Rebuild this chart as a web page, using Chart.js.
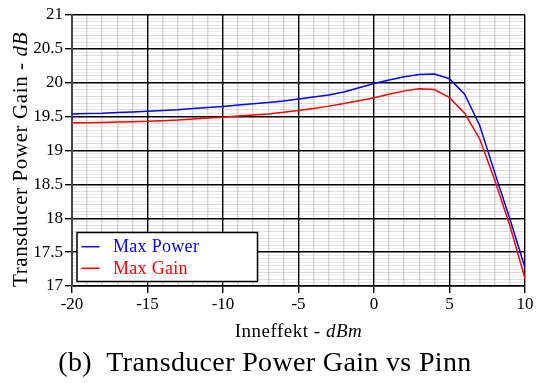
<!DOCTYPE html>
<html>
<head>
<meta charset="utf-8">
<script src="https://cdn.jsdelivr.net/npm/chart.js@4.4.1/dist/chart.umd.min.js"></script>
<style>
  html, body { margin: 0; padding: 0; background: #ffffff; }
  #wrap { width: 537px; height: 383px; }
</style>
</head>
<body>
<div id="wrap"><canvas id="c" width="537" height="383"></canvas></div>
<script>
// Input power sweep (dBm)
const pinn = [-20, -19, -18, -17, -16, -15, -14, -13, -12, -11, -10, -9, -8, -7, -6, -5, -4, -3, -2, -1,
              0, 1, 2, 3, 4, 5, 6, 7, 8, 9, 10];
// Transducer power gain (dB) for the two matching conditions
const maxPower = [19.54, 19.545, 19.55, 19.56, 19.57, 19.58, 19.59, 19.60, 19.62, 19.635, 19.65, 19.67, 19.69, 19.71, 19.73, 19.76, 19.79, 19.82, 19.865, 19.925,
                  19.99, 20.04, 20.09, 20.12, 20.13, 20.06, 19.83, 19.37, 18.67, 17.99, 17.27];
const maxGain = [19.41, 19.41, 19.415, 19.42, 19.425, 19.43, 19.44, 19.45, 19.465, 19.48, 19.49, 19.51, 19.525, 19.54, 19.565, 19.59, 19.62, 19.655, 19.695, 19.735,
                 19.78, 19.83, 19.88, 19.91, 19.90, 19.78, 19.55, 19.17, 18.56, 17.89, 17.11];
const seriesNames = ['Max Power', 'Max Gain'];
const seriesColors = ['#0000ff', '#ff0000'];

// Axis ranges and labelled tick values
const xRange = [-20, 10];
const yRange = [17, 21];
const xMajorTicks = [-20, -15, -10, -5, 0, 5, 10];
const yMajorTicks = [17, 17.5, 18, 18.5, 19, 19.5, 20, 20.5, 21];
const xMinorStep = 1;
const yMinorStep = 0.05;

const SERIF = '"Liberation Serif", "DejaVu Serif", serif';

const near = (a, b) => Math.abs(a - b) < 1e-6;
const isMajor = (list, v) => list.some(t => near(t, v));
const stepTicks = (lo, hi, step) => {
  const out = [];
  const n = Math.round((hi - lo) / step);
  for (let i = 0; i <= n; i++) out.push(Math.round((lo + i * step) * 1000) / 1000);
  return out;
};

function toPoints(xs, ys) {
  return xs.map((x, i) => ({ x: x, y: ys[i] }));
}

// Axis titles (with italic units), caption and the framed legend
const annotate = {
  id: 'annotate',
  afterDraw(chart) {
    const ctx = chart.ctx;
    const area = chart.chartArea;
    ctx.save();
    ctx.fillStyle = '#000';
    ctx.textBaseline = 'alphabetic';

    function mixed(parts, cx, cy, rotate, spacing) {
      // parts: [[text, font], ...]
      ctx.save();
      if ('letterSpacing' in ctx) ctx.letterSpacing = spacing + 'px';
      let total = 0;
      const widths = parts.map(p => { ctx.font = p[1]; const w = ctx.measureText(p[0]).width; total += w; return w; });
      ctx.translate(cx, cy);
      if (rotate) ctx.rotate(-Math.PI / 2);
      let x = -total / 2;
      parts.forEach((p, i) => {
        ctx.font = p[1];
        ctx.textAlign = 'left';
        ctx.fillText(p[0], x, 0);
        x += widths[i];
      });
      ctx.restore();
    }

    // y-axis title
    mixed([['Transducer Power Gain - ', '21px ' + SERIF], ['dB', 'italic 21px ' + SERIF]], 26.5, 159.5, true, 0.6);
    // x-axis title
    mixed([['Inneffekt - ', '19px ' + SERIF], ['dBm', 'italic 19px ' + SERIF]], (area.left + area.right) / 2, 337, false, 0.5);
    // caption
    mixed([['(b)\u2002Transducer Power Gain vs Pinn', '28px ' + SERIF]], 265, 371, false, 0.35);

    // legend box
    const bx = 77, by = 232.5, bw = 180.5, bh = 49;
    ctx.fillStyle = '#ffffff';
    ctx.fillRect(bx, by, bw, bh);
    ctx.strokeStyle = '#000';
    ctx.lineWidth = 1.5;
    ctx.strokeRect(bx, by, bw, bh);
    const rows = [246.7, 268.3];
    if ('letterSpacing' in ctx) ctx.letterSpacing = '0.3px';
    chart.data.datasets.forEach((ds, i) => {
      ctx.strokeStyle = ds.borderColor;
      ctx.lineWidth = 1.5;
      ctx.beginPath();
      ctx.moveTo(81.5, rows[i]);
      ctx.lineTo(99.5, rows[i]);
      ctx.stroke();
      ctx.fillStyle = ds.borderColor;
      ctx.font = '18px ' + SERIF;
      ctx.textAlign = 'left';
      ctx.fillText(ds.label, 113, rows[i] + 5.5);
    });
    ctx.restore();
  }
};

new Chart(document.getElementById('c'), {
  type: 'line',
  data: {
    datasets: [
      { label: seriesNames[0], data: toPoints(pinn, maxPower), borderColor: seriesColors[0], borderWidth: 1.5, pointRadius: 0, tension: 0, fill: false },
      { label: seriesNames[1], data: toPoints(pinn, maxGain), borderColor: seriesColors[1], borderWidth: 1.5, pointRadius: 0, tension: 0, fill: false }
    ]
  },
  options: {
    responsive: false,
    animation: false,
    devicePixelRatio: 1,
    layout: { padding: { left: 0, right: 12, top: 15, bottom: 0 } },
    plugins: { legend: { display: false }, title: { display: false }, tooltip: { enabled: false } },
    scales: {
      x: {
        type: 'linear',
        min: xRange[0], max: xRange[1],
        afterBuildTicks(scale) { scale.ticks = stepTicks(xRange[0], xRange[1], xMinorStep).map(v => ({ value: v })); },
        afterFit(scale) { scale.height = 97; scale.paddingLeft = 0; scale.paddingRight = 0; },
        ticks: {
          autoSkip: false, maxRotation: 0, padding: 1, color: '#000',
          font: { family: SERIF, size: 17 },
          callback: v => isMajor(xMajorTicks, v) ? String(v) : ''
        },
        grid: {
          color: c => isMajor(xMajorTicks, c.tick.value) ? '#000' : 'rgba(0,0,0,0.15)',
          lineWidth: c => isMajor(xMajorTicks, c.tick.value) ? 1.4 : 1.5,
          tickColor: c => isMajor(xMajorTicks, c.tick.value) ? '#000' : 'rgba(0,0,0,0)',
          tickLength: 7, tickWidth: 1.4
        },
        border: { display: true, color: '#000', width: 1.4 }
      },
      y: {
        type: 'linear',
        min: yRange[0], max: yRange[1],
        afterBuildTicks(scale) { scale.ticks = stepTicks(yRange[0], yRange[1], yMinorStep).map(v => ({ value: v })); },
        afterFit(scale) { scale.width = 72; scale.paddingTop = 0; scale.paddingBottom = 0; },
        ticks: {
          autoSkip: false, padding: 2, color: '#000',
          font: { family: SERIF, size: 17 },
          callback: v => isMajor(yMajorTicks, v) ? String(v) : ''
        },
        grid: {
          color: c => {
            const v = c.tick.value;
            if (isMajor(yMajorTicks, v)) return '#000';
            return near(Math.round(v * 10) / 10, v) ? 'rgba(0,0,0,0.13)' : 'rgba(0,0,0,0.07)';
          },
          lineWidth: c => isMajor(yMajorTicks, c.tick.value) ? 1.4 : 1,
          tickColor: c => isMajor(yMajorTicks, c.tick.value) ? '#000' : 'rgba(0,0,0,0)',
          tickLength: 7, tickWidth: 1.4
        },
        border: { display: true, color: '#444', width: 2 }
      }
    }
  },
  plugins: [annotate]
});
</script>
</body>
</html>
